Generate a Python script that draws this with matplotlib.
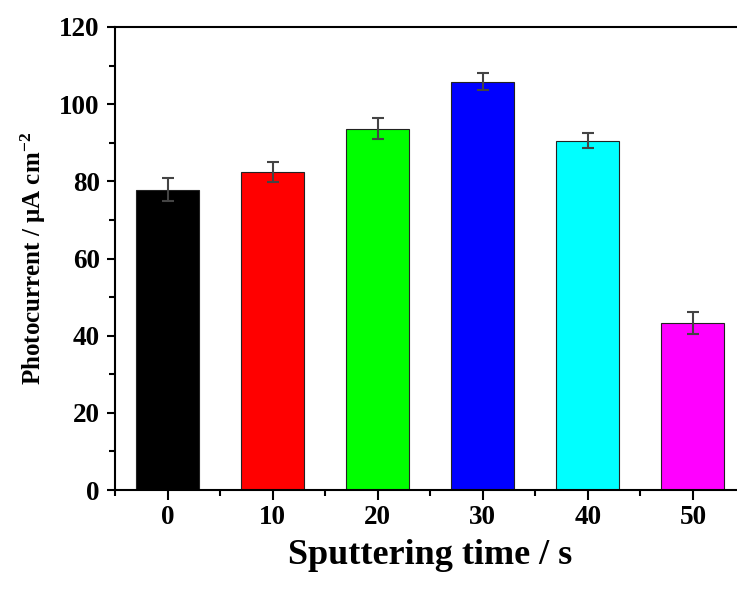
import matplotlib
matplotlib.use("Agg")
import matplotlib.pyplot as plt
from matplotlib.ticker import MultipleLocator

times = [0, 10, 20, 30, 40, 50]
photocurrent = [77.8, 82.3, 93.6, 105.8, 90.5, 43.2]
errors = [3.0, 2.6, 2.7, 2.2, 1.9, 2.85]
colors = ["#000000", "#ff0000", "#00ff00", "#0000ff", "#00ffff", "#ff00ff"]

plt.rcParams['font.family'] = ['Liberation Serif', 'DejaVu Serif']
plt.rcParams['font.weight'] = 'bold'
plt.rcParams['mathtext.fontset'] = 'custom'
plt.rcParams['mathtext.rm'] = 'Liberation Serif:bold'
plt.rcParams['mathtext.bf'] = 'Liberation Serif:bold'
plt.rcParams['mathtext.default'] = 'bf'

fig = plt.figure(figsize=(7.37, 5.92), dpi=100)
ax = fig.add_axes([115/737, 102/592, (745.5-115)/737, (490-27)/592])

ax.bar(times, photocurrent, width=6, color=colors, edgecolor="#222222", linewidth=0.8, zorder=2)
ax.errorbar(times, photocurrent, yerr=errors, fmt='none', ecolor="#444444",
            elinewidth=1.5, capsize=4.5, capthick=1.5, zorder=3)

ax.set_xlim(-5, 55)
ax.set_ylim(0, 120)
ax.set_xticks(times)
ax.xaxis.set_minor_locator(MultipleLocator(5))
ax.yaxis.set_major_locator(MultipleLocator(20))
ax.yaxis.set_minor_locator(MultipleLocator(10))

for s in ax.spines.values():
    s.set_linewidth(1.5)
ax.tick_params(which='both', direction='out', top=False, right=False, width=1.5)
ax.tick_params(which='major', axis='x', length=7, pad=4)
ax.tick_params(which='minor', axis='x', length=4)
ax.tick_params(which='major', axis='y', length=6, pad=5)
ax.tick_params(which='minor', axis='y', length=4)
for lab in ax.get_xticklabels() + ax.get_yticklabels():
    lab.set_fontsize(19.5)
    lab.set_fontweight('bold')

ax.set_xlabel('Sputtering time / s', fontsize=26, fontweight='bold', labelpad=6)
ax.set_ylabel(r'Photocurrent / μA cm$^{-2}$', fontsize=18, fontweight='bold', labelpad=8)

fig.savefig("out.png", dpi=100)
